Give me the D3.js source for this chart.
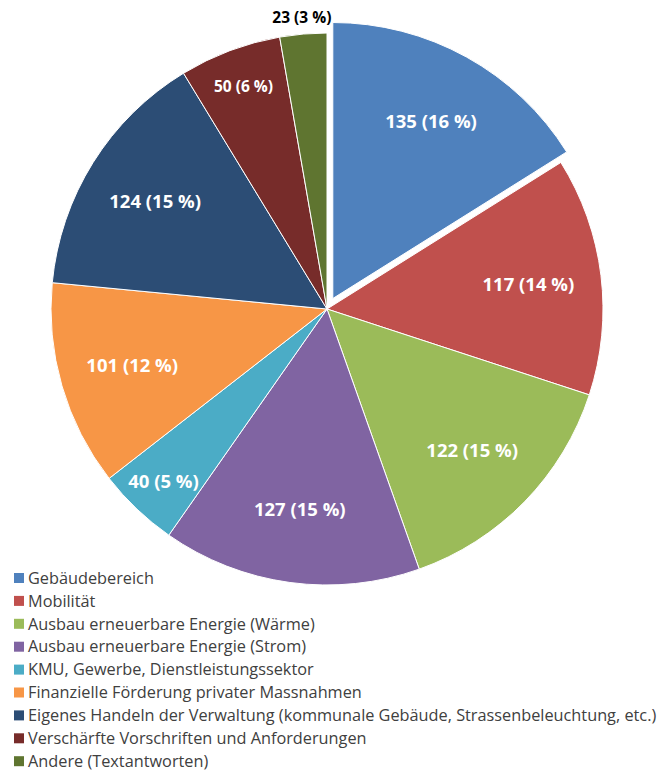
<!DOCTYPE html>
<html>
<head>
<meta charset="utf-8">
<script src="https://cdn.jsdelivr.net/npm/d3@7"></script>
<style>
  body { margin: 0; background: #fff; }
  svg { display: block; }
</style>
</head>
<body>
<div id="wrapper"></div>
<script>
// data
var categories = [
    "Gebäudebereich",
    "Mobilität",
    "Ausbau erneuerbare Energie (Wärme)",
    "Ausbau erneuerbare Energie (Strom)",
    "KMU, Gewerbe, Dienstleistungssektor",
    "Finanzielle Förderung privater Massnahmen",
    "Eigenes Handeln der Verwaltung (kommunale Gebäude, Strassenbeleuchtung, etc.)",
    "Verschärfte Vorschriften und Anforderungen",
    "Andere (Textantworten)"
];
var values = [135, 117, 122, 127, 40, 101, 124, 50, 23];
var percents = [16, 14, 15, 15, 5, 12, 15, 6, 3];
var colors = ["#4f81bd", "#c0504d", "#9bbb59", "#8064a2", "#4bacc6",
              "#f79646", "#2c4d75", "#772c2a", "#5f7530"];

function build() {
    var dimension = {
        width: 666,
        height: 771,
        cx: 327,
        cy: 309,
        radius: 276,
        explode: 12
    };

    var data = categories.map(function (c, i) {
        return { name: c, value: values[i], pct: percents[i], color: colors[i], idx: i };
    });

    const wrapper = d3.select("#wrapper")
        .append("svg")
        .attr("width", dimension.width)
        .attr("height", dimension.height);

    const pie = d3.pie()
        .sort(null)
        .value(d => d.value);

    const arcs = pie(data);

    const arc = d3.arc()
        .innerRadius(0)
        .outerRadius(dimension.radius);

    const bounds = wrapper.append("g")
        .attr("transform", `translate(${dimension.cx},${dimension.cy})`);

    // first slice is pulled out a bit
    function offset(d) {
        if (d.index != 0) return [0, 0];
        var a = (d.startAngle + d.endAngle) / 2;
        return [Math.sin(a) * dimension.explode, -Math.cos(a) * dimension.explode];
    }

    bounds.selectAll("path")
        .data(arcs)
        .enter()
        .append("path")
        .attr("d", arc)
        .attr("transform", d => `translate(${offset(d)})`)
        .attr("fill", d => d.data.color)
        .attr("stroke", "#fff")
        .attr("stroke-width", 1);

    var total = d3.sum(values);

    // labels: big slices inside, small ones near the rim, tiniest outside
    function labelRadius(d) {
        var frac = d.data.value / total;
        if (frac < 0.04) return dimension.radius * 1.06;
        if (frac < 0.07) return dimension.radius * 0.86;
        return dimension.radius * 0.735;
    }

    bounds.selectAll("text.lbl")
        .data(arcs)
        .enter()
        .append("text")
        .attr("class", "lbl")
        .attr("x", d => {
            var a = (d.startAngle + d.endAngle) / 2;
            return offset(d)[0] + Math.sin(a) * labelRadius(d);
        })
        .attr("y", d => {
            var a = (d.startAngle + d.endAngle) / 2;
            return offset(d)[1] - Math.cos(a) * labelRadius(d);
        })
        .attr("dy", "0.35em")
        .style("text-anchor", "middle")
        .style("font-family", "'Open Sans', sans-serif")
        .style("font-weight", "bold")
        .style("font-size", d => {
            var frac = d.data.value / total;
            if (frac < 0.04) return "15.5px";
            if (frac > 0.055 && frac < 0.07) return "15.5px";
            return "18.5px";
        })
        .style("fill", d => (d.data.value / total < 0.04 ? "#000" : "#fff"))
        .text(d => `${d.data.value} (${d.data.pct} %)`);

    // legend
    const legend = wrapper.append("g")
        .attr("transform", "translate(14,578)");

    const rows = legend.selectAll("g")
        .data(data)
        .enter()
        .append("g")
        .attr("transform", (d, i) => `translate(0,${i * 22.9})`);

    rows.append("rect")
        .attr("x", 0)
        .attr("y", -5)
        .attr("width", 10)
        .attr("height", 10)
        .attr("fill", d => d.color);

    rows.append("text")
        .attr("x", 14)
        .attr("y", 0)
        .attr("dy", "0.35em")
        .style("font-family", "'Open Sans', sans-serif")
        .style("font-size", "16.3px")
        .style("fill", "#404040")
        .text(d => d.name);
}

build();
</script>
</body>
</html>
